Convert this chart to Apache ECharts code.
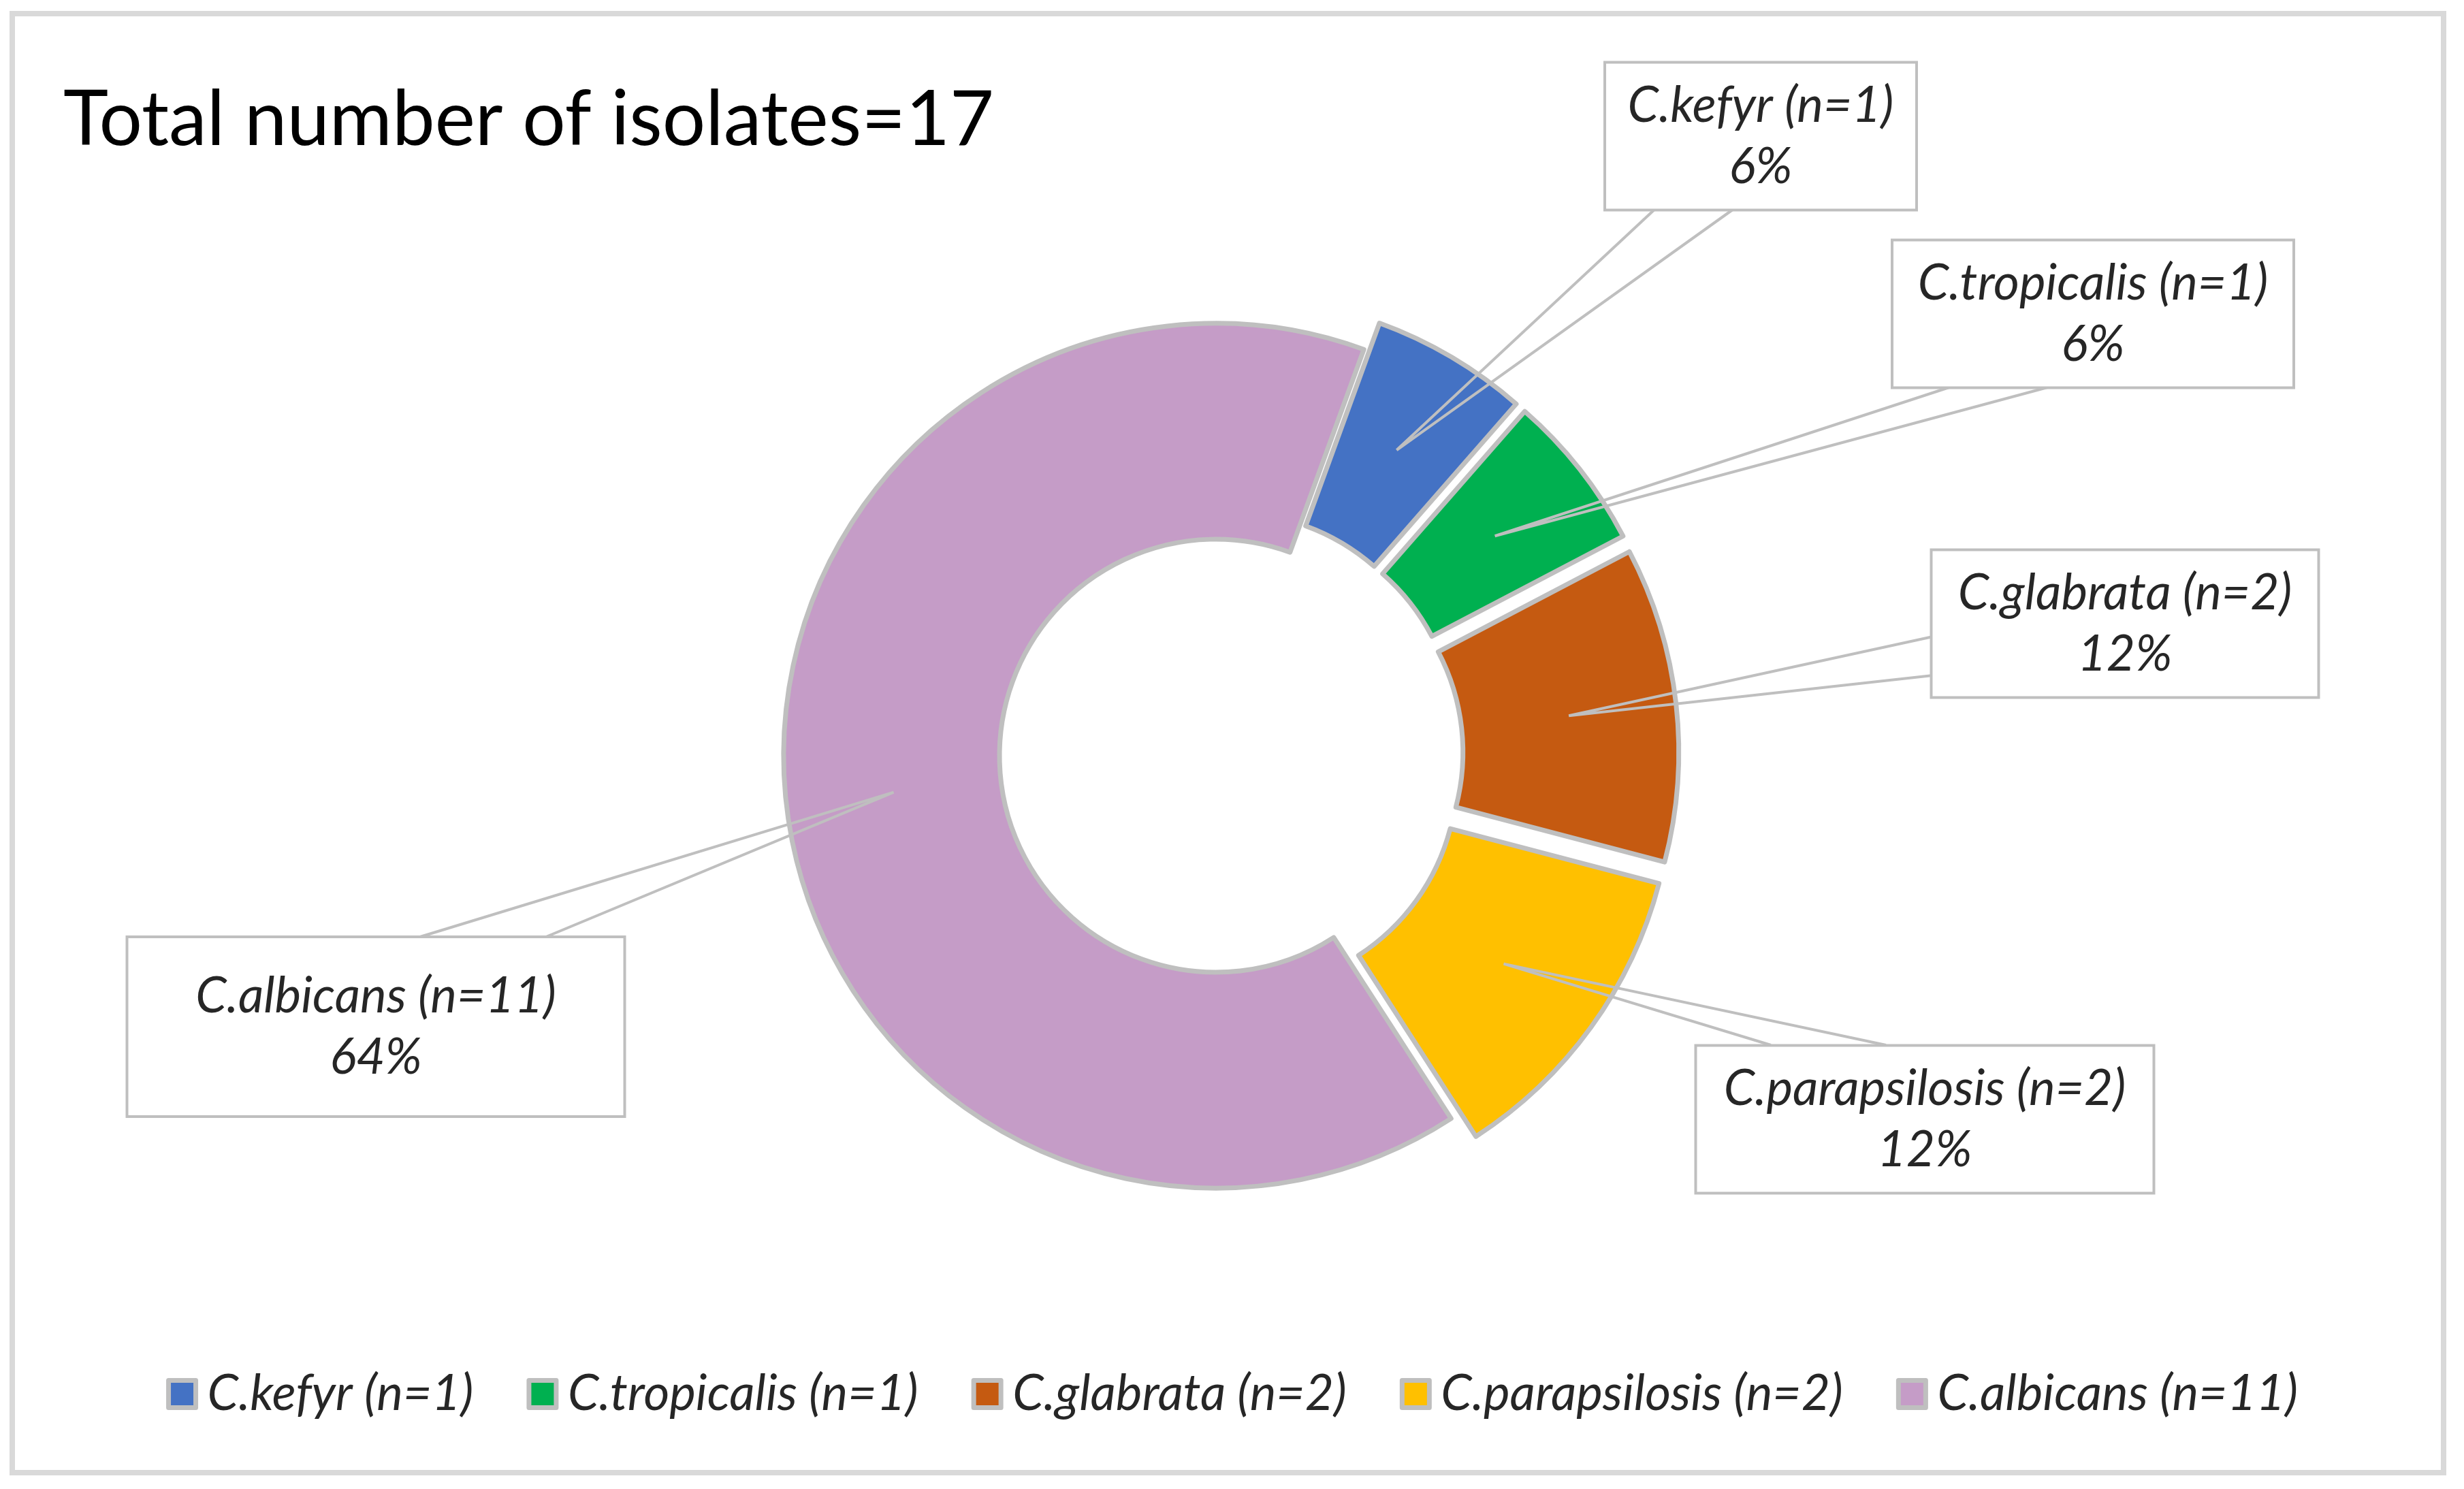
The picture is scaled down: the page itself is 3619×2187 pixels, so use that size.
<!DOCTYPE html>
<html>
<head>
<meta charset="utf-8">
<title>Candida isolates</title>
<script src="https://cdn.jsdelivr.net/npm/echarts@6/dist/echarts.min.js"></script>
<style>
  html, body { margin: 0; padding: 0; background: #fff; }
  #chart { width: 3619px; height: 2187px; }
</style>
</head>
<body>
<div id="chart"></div>
<script>
// data
const species = ["C.kefyr (n=1)", "C.tropicalis (n=1)", "C.glabrata (n=2)", "C.parapsilosis (n=2)", "C.albicans (n=11)"];
const isolates = [1, 1, 2, 2, 11];
const titleText = "Total number of isolates=17";

// look
const sliceColors = ["#4472C4", "#00B050", "#C55A11", "#FFC000", "#C59CC7"];
const exploded = [true, true, true, true, false];

// layout (pixels)
const PIE_CX = 1786, PIE_CY = 1110;
const R_IN = 318, R_OUT = 635;
const EXPLODE = 45;
const START_ANGLE = 70; // first slice 20deg clockwise from 12 o'clock
const boxCenter = [[2586, 200], [3074, 461], [3121, 916], [2827, 1644], [552, 1508]];
const boxSize = [[454, 213], [586, 213], [565, 213], [669, 213], [727, 260]];
const calloutBase = [
  [[2433, 305], [2549, 305]],
  [[2875, 565], [3022, 565]],
  [[2839, 935], [2839, 992]],
  [[2601, 1535], [2770, 1535]],
  [[617, 1376], [802, 1376]]
];
const LINE_H = 90;
const FONT = "Lato, 'Open Sans', sans-serif";
const TEXT_SIZE = 73;

const total = isolates.reduce((a, b) => a + b, 0);

// point inside a slice, half way through the ring, where the callout pointer ends
function sliceAnchor(i) {
  let before = 0;
  for (let k = 0; k < i; k++) before += isolates[k];
  const mid = (START_ANGLE - (before + isolates[i] / 2) / total * 360) * Math.PI / 180;
  const r = (R_IN + R_OUT) / 2 + (exploded[i] ? EXPLODE : 0);
  return [PIE_CX + r * Math.cos(mid), PIE_CY - r * Math.sin(mid)];
}

// visible ring (exploded slices are "selected")
const ringData = species.map((name, i) => ({
  name: name,
  value: isolates[i],
  selected: exploded[i],
  itemStyle: { color: sliceColors[i] }
}));

// same slices again, invisible, only to carry the callout labels
const calloutData = species.map((name, i) => ({
  name: name,
  value: isolates[i],
  label: {
    width: boxSize[i][0],
    padding: [(boxSize[i][1] - 2 * LINE_H) / 2, 0]
  }
}));

const chart = echarts.init(document.getElementById("chart"), null, { renderer: "canvas" });

chart.setOption({
  animation: false,
  backgroundColor: "#fff",
  title: {
    text: titleText,
    left: 88,
    top: 116,
    textStyle: { fontFamily: FONT, fontSize: 112, fontWeight: "normal", color: "#000" }
  },
  legend: {
    data: species,
    left: "center",
    top: 2006,
    icon: "rect",
    itemWidth: 40,
    itemHeight: 40,
    itemGap: 78,
    selectedMode: false,
    itemStyle: { borderColor: "#BFBFBF", borderWidth: 7 },
    textStyle: { fontFamily: FONT, fontStyle: "italic", fontSize: TEXT_SIZE, color: "#262626", padding: [0, 0, 0, 12] }
  },
  graphic: [{
    type: "rect",
    shape: { x: 18, y: 20, width: 3571, height: 2143 },
    style: { fill: null, stroke: "#D9D9D9", lineWidth: 8 },
    silent: true
  }],
  series: [{
    type: "pie",
    name: "ring",
    z: 2,
    center: [PIE_CX, PIE_CY],
    radius: [R_IN, R_OUT],
    startAngle: START_ANGLE,
    clockwise: true,
    selectedMode: "multiple",
    selectedOffset: EXPLODE,
    itemStyle: { borderColor: "#BFBFBF", borderWidth: 7 },
    select: { itemStyle: { borderColor: "#BFBFBF", borderWidth: 7 } },
    emphasis: { disabled: true },
    label: { show: false },
    labelLine: { show: false },
    data: ringData
  }, {
    type: "pie",
    name: "callouts",
    z: 4,
    center: [PIE_CX, PIE_CY],
    radius: [R_IN, R_OUT],
    startAngle: START_ANGLE,
    clockwise: true,
    silent: true,
    legendHoverLink: false,
    avoidLabelOverlap: false,
    percentPrecision: 0,
    itemStyle: { color: "rgba(0,0,0,0)", borderWidth: 0 },
    emphasis: { disabled: true },
    label: {
      show: true,
      position: "outside",
      formatter: "{b}\n{d}%",
      fontFamily: FONT,
      fontStyle: "italic",
      fontSize: TEXT_SIZE,
      lineHeight: LINE_H,
      color: "#262626",
      backgroundColor: "#fff",
      borderColor: "#BFBFBF",
      borderWidth: 4
    },
    labelLine: {
      show: true,
      lineStyle: { color: "#BFBFBF", width: 4 }
    },
    labelLayout: function (params) {
      const i = params.dataIndex;
      const a = sliceAnchor(i);
      const b = calloutBase[i];
      return {
        x: boxCenter[i][0],
        y: boxCenter[i][1],
        align: "center",
        verticalAlign: "middle",
        labelLinePoints: [b[0], a, b[1]]
      };
    },
    data: calloutData
  }]
});

window.addEventListener("resize", () => chart.resize());
</script>
</body>
</html>
